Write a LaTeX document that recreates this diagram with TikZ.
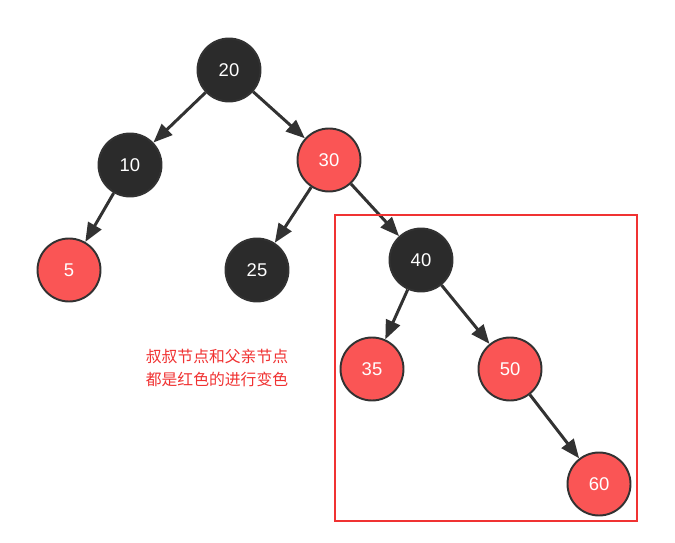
\documentclass[tikz,border=0pt]{standalone}
\usepackage{fontspec}
\setsansfont{Liberation Sans}
\newfontfamily\cjk{Noto Sans CJK SC}
\usetikzlibrary{arrows.meta}
\colorlet{blacknode}{black!83}
\definecolor{rednode}{RGB}{250,85,85}
\definecolor{rimcolor}{RGB}{50,50,50}
\definecolor{notecolor}{RGB}{240,50,50}

\begin{document}
\begin{tikzpicture}[x=0.02cm, y=-0.02cm,
    rbnode/.style={circle, minimum size=1.26cm, inner sep=0pt, draw=rimcolor, line width=1.1pt,
        font=\sffamily\fontsize{10.5}{12}\selectfont, text=white},
    blacknd/.style={rbnode, fill=blacknode},
    rednd/.style={rbnode, fill=rednode},
    link/.style={draw=rimcolor, line width=1.7pt, -{Triangle[length=0.38cm, width=0.3cm]}}]
    \useasboundingbox (0,0) rectangle (675,543);
    % --- tree nodes ---
    \node[blacknd] (n20) at (229,70) {20};
    \node[blacknd] (n10) at (130,165) {10};
    \node[rednd] (n30) at (329,160) {30};
    \node[rednd] (n5) at (69,270) {5};
    \node[blacknd] (n25) at (257,270) {25};
    \node[blacknd] (n40) at (421,260) {40};
    \node[rednd] (n35) at (372,369) {35};
    \node[rednd] (n50) at (510,369) {50};
    \node[rednd] (n60) at (599,484) {60};
    % --- parent to child links ---
    \foreach \p/\c in {n20/n10, n20/n30, n10/n5, n30/n25, n30/n40, n40/n35, n40/n50, n50/n60}
        \draw[link] (\p) -- (\c);
    % --- recoloured subtree box and note ---
    \draw[notecolor, line width=0.6pt] (335,215) rectangle (637,521);
    \node[text=notecolor, font=\cjk\fontsize{9}{13}\selectfont, align=left] (note) at (217,368)
        {叔叔节点和父亲节点\\都是红色的进行变色};
\end{tikzpicture}
\end{document}
